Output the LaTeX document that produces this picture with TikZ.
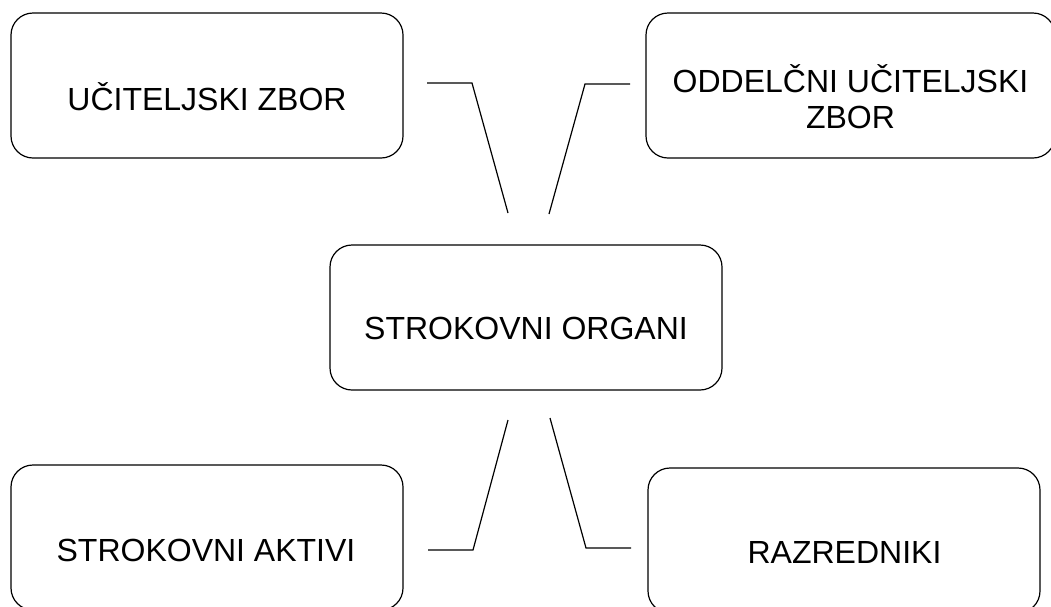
\documentclass[tikz,border=0pt]{standalone}
\usepackage{fontspec}
\setmainfont{Liberation Sans}
\begin{document}
\begin{tikzpicture}[x=1pt,y=-1pt,
  box/.style={draw=black, line width=1.2pt, rounded corners=22pt, minimum width=392pt, minimum height=145pt, inner sep=0pt},
  lbl/.style={font=\fontsize{32}{36}\selectfont, align=center, inner sep=0pt, anchor=center},
  conn/.style={draw=black, line width=1.2pt}]
\useasboundingbox (0,0) rectangle (1051,606);
% boxes
\node[box] (tl) at (207,85.5) {};
\node[box, minimum width=409pt] (tr) at (850.5,85.5) {};
\node[box] (c) at (526,317.5) {};
\node[box] (bl) at (207,537.5) {};
\node[box] (br) at (844,540.5) {};
% labels
\node[lbl] (tlt) at (207,96.5) {UČITELJSKI ZBOR};
\node[lbl] (trt) at (850.5,96.5) {ODDELČNI UČITELJSKI\\ZBOR};
\node[lbl] (ct) at (526,328.5) {STROKOVNI ORGANI};
\node[lbl] (blt) at (206,550) {STROKOVNI AKTIVI};
\node[lbl] (brt) at (844.5,552.5) {RAZREDNIKI};
% connector coordinates
\coordinate (a1) at (427,83);
\coordinate (a2) at (472,83);
\coordinate (a3) at (508,213);
\coordinate (b1) at (630,84);
\coordinate (b2) at (585,84);
\coordinate (b3) at (549,214);
\coordinate (c1) at (508,420);
\coordinate (c2) at (473,550);
\coordinate (c3) at (428,550);
\coordinate (d1) at (550,418);
\coordinate (d2) at (586,548);
\coordinate (d3) at (631,548);
\draw[conn] (a1) -- (a2) -- (a3);
\draw[conn] (b1) -- (b2) -- (b3);
\draw[conn] (c1) -- (c2) -- (c3);
\draw[conn] (d1) -- (d2) -- (d3);
\end{tikzpicture}
\end{document}
